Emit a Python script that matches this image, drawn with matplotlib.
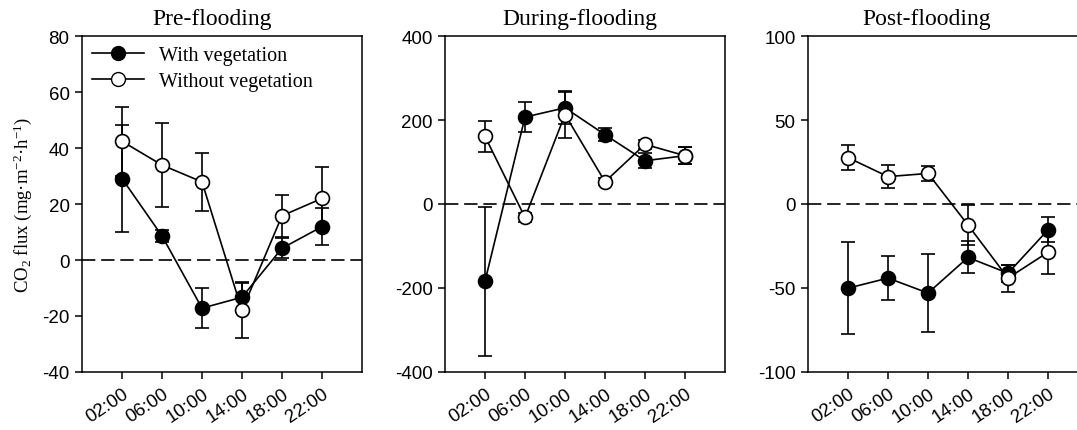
import numpy as np
import matplotlib.pyplot as plt
from matplotlib.lines import Line2D

times = ["02:00", "06:00", "10:00", "14:00", "18:00", "22:00"]

# Pre-flooding
pre_veg = [29.1, 8.6, -17.2, -13.3, 4.2, 11.9]
pre_veg_err = [19.0, 2.2, 7.2, 5.0, 3.5, 6.5]
pre_noveg = [42.4, 33.9, 27.9, -18.0, 15.8, 22.0]
pre_noveg_err = [12.3, 15.0, 10.3, 10.0, 7.5, 11.3]

# During-flooding
dur_veg = [-184.0, 207.0, 229.0, 165.0, 103.0, 115.0]
dur_veg_err = [177.0, 36.0, 38.0, 15.0, 18.0, 20.0]
dur_noveg = [161.0, -32.0, 213.0, 53.0, 142.0, 115.0]
dur_noveg_err = [36.0, 10.0, 57.0, 8.0, 10.0, 20.0]

# Post-flooding
post_veg = [-50.1, -44.1, -53.0, -31.8, -41.2, -15.4]
post_veg_err = [27.5, 13.0, 23.0, 9.5, 5.0, 7.5]
post_noveg = [27.6, 16.3, 18.2, -12.5, -44.1, -28.7]
post_noveg_err = [7.5, 7.0, 4.5, 12.0, 8.0, 13.0]

panels = [
    ("Pre-flooding", pre_veg, pre_veg_err, pre_noveg, pre_noveg_err, (-40, 80), np.arange(-40, 81, 20), 0.464),
    ("During-flooding", dur_veg, dur_veg_err, dur_noveg, dur_noveg_err, (-400, 400), np.arange(-400, 401, 200), 0.482),
    ("Post-flooding", post_veg, post_veg_err, post_noveg, post_noveg_err, (-100, 100), np.arange(-100, 101, 50), 0.425),
]

serif = "Liberation Serif"
sans = "Liberation Sans"

plt.rcParams["axes.unicode_minus"] = False
plt.rcParams["mathtext.fontset"] = "custom"
plt.rcParams["mathtext.rm"] = serif
plt.rcParams["mathtext.it"] = serif + ":italic"

W, H = 1077, 431
fig = plt.figure(figsize=(W / 100, H / 100), dpi=100)
lefts = [82, 445, 808]
x = np.arange(1, 7)

for i, (title, v, ve, nv, nve, ylim, yt, tx) in enumerate(panels):
    ax = fig.add_axes([lefts[i] / W, 1 - 373 / H, 280 / W, 336 / H])
    ax.axhline(0, color="black", lw=1.2, ls=(0, (8, 3.5)), zorder=1)
    ax.errorbar(x, v, yerr=ve, color="black", lw=1.2, capsize=5, capthick=1.2,
                marker="o", ms=10, mfc="black", mec="black", mew=1.2, zorder=3)
    ax.errorbar(x, nv, yerr=nve, color="black", lw=1.2, capsize=5, capthick=1.2,
                marker="o", ms=10, mfc="white", mec="black", mew=1.2, zorder=4)
    ax.set_xlim(0, 7)
    ax.set_ylim(*ylim)
    ax.set_yticks(yt)
    ax.set_xticks(x)
    ax.set_xticklabels(times, rotation=34, ha="right", rotation_mode="anchor",
                       fontfamily=sans, fontsize=13.5)
    for lab in ax.get_yticklabels():
        lab.set_fontfamily(sans)
        lab.set_fontsize(13.5)
    ax.tick_params(direction="out", length=5, width=1.1, top=False, right=False, pad=4)
    for s in ax.spines.values():
        s.set_linewidth(1.1)
    ax.text(tx, 1.02, title, transform=ax.transAxes, ha="center", va="bottom",
            fontfamily=serif, fontsize=17)
    if i == 0:
        ax.set_ylabel("CO$_2$ flux (mg·m$^{-2}$·h$^{-1}$)", fontfamily=serif, fontsize=13.5, labelpad=6)
        handles = [
            Line2D([], [], color="black", lw=1.2, marker="o", ms=10, mfc="black", mec="black"),
            Line2D([], [], color="black", lw=1.2, marker="o", ms=10, mfc="white", mec="black"),
        ]
        ax.legend(handles, ["With vegetation", "Without vegetation"], loc="upper left",
                  frameon=False, prop={"family": serif, "size": 14.5},
                  handlelength=2.6, handletextpad=0.7, borderaxespad=0.2,
                  labelspacing=0.35, borderpad=0.3)

fig.savefig("out.png", dpi=100)
